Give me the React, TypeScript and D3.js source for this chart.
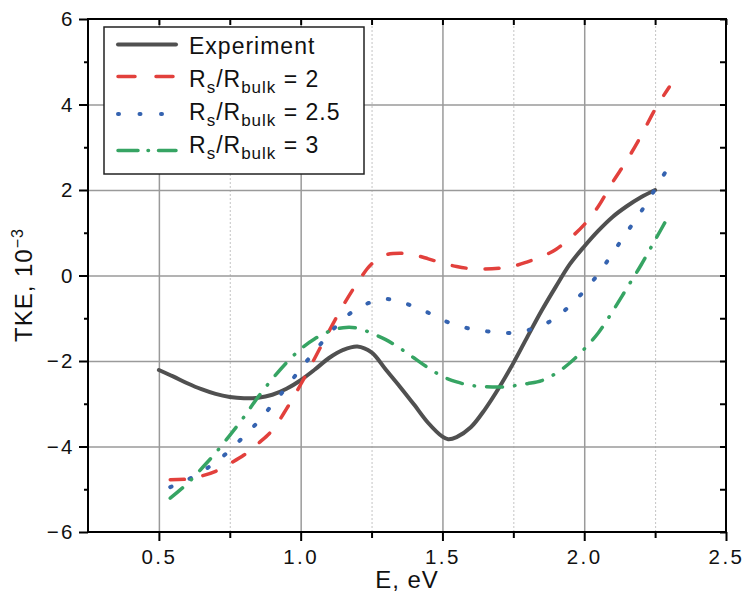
import React, { useEffect, useRef } from 'react';
import * as d3 from 'd3';

// Experiment curve
const expEnergy = [0.5, 0.55, 0.6, 0.65, 0.7, 0.75, 0.8, 0.85, 0.9, 0.95, 1.0, 1.05, 1.1, 1.15, 1.2, 1.25, 1.3, 1.35, 1.4, 1.45, 1.5, 1.52, 1.55, 1.6, 1.65, 1.7, 1.75, 1.8, 1.85, 1.9, 1.95, 2.0, 2.05, 2.1, 2.15, 2.2, 2.25];
const expTKE = [-2.21, -2.36, -2.52, -2.66, -2.77, -2.84, -2.87, -2.86, -2.79, -2.65, -2.45, -2.2, -1.93, -1.74, -1.66, -1.8, -2.2, -2.6, -3.02, -3.45, -3.77, -3.83, -3.78, -3.55, -3.13, -2.62, -2.05, -1.43, -0.82, -0.26, 0.27, 0.68, 1.05, 1.37, 1.62, 1.83, 2.0];

// model curves share one energy grid
const modelEnergy = [0.54, 0.6, 0.65, 0.7, 0.75, 0.8, 0.85, 0.9, 0.95, 1.0, 1.05, 1.1, 1.15, 1.2, 1.25, 1.3, 1.35, 1.4, 1.45, 1.5, 1.55, 1.6, 1.65, 1.7, 1.75, 1.8, 1.85, 1.9, 1.95, 2.0, 2.05, 2.1, 2.15, 2.2, 2.25, 2.3];
const ratio2 = [-4.78, -4.76, -4.69, -4.58, -4.4, -4.2, -3.93, -3.62, -3.12, -2.55, -1.93, -1.3, -0.7, -0.17, 0.27, 0.48, 0.52, 0.48, 0.39, 0.29, 0.21, 0.16, 0.15, 0.17, 0.22, 0.32, 0.44, 0.61, 0.87, 1.19, 1.62, 2.18, 2.69, 3.26, 3.89, 4.41];
const ratio25 = [-4.95, -4.78, -4.59, -4.37, -4.09, -3.76, -3.42, -3.02, -2.61, -2.18, -1.77, -1.37, -1.02, -0.77, -0.62, -0.55, -0.61, -0.73, -0.87, -1.04, -1.16, -1.25, -1.3, -1.34, -1.34, -1.28, -1.17, -0.99, -0.7, -0.36, 0.04, 0.52, 1.01, 1.49, 2.02, 2.57];
const ratio3 = [-5.21, -4.87, -4.52, -4.15, -3.74, -3.31, -2.84, -2.42, -2.04, -1.72, -1.48, -1.31, -1.22, -1.23, -1.35, -1.5, -1.7, -1.93, -2.16, -2.36, -2.49, -2.57, -2.6, -2.61, -2.58, -2.53, -2.46, -2.29, -2.04, -1.72, -1.34, -0.84, -0.3, 0.24, 0.83, 1.42];

const xTicks = [0.5, 1.0, 1.5, 2.0, 2.5];
const xMinor = [0.75, 1.25, 1.75, 2.25];
const yTicks = [-6, -4, -2, 0, 2, 4, 6];
const yMinor = [-5, -3, -1, 1, 3, 5];
const yGrid = [-4, -2, 0, 2, 4];

const FONT = '"Liberation Sans", Arial, Helvetica, sans-serif';

const App: React.FC = () => {
  const ref = useRef<SVGSVGElement>(null);

  useEffect(() => {
    const svg = d3.select(ref.current);
    svg.selectAll('*').remove();

    const left = 88, right = 726, top = 19, bottom = 532;
    const x = d3.scaleLinear().domain([0.25, 2.5]).range([left, right]);
    const y = d3.scaleLinear().domain([-6, 6]).range([bottom, top]);

    // grid
    svg.append('g')
      .attr('transform', `translate(0,${bottom})`)
      .call(d3.axisBottom(x).tickValues(xMinor).tickSize(-(bottom - top)).tickFormat(() => ''))
      .call(g => g.select('.domain').remove())
      .call(g => g.selectAll('line').attr('stroke', '#c4c4c4').attr('stroke-width', 1).attr('stroke-dasharray', '2 2'));
    svg.append('g')
      .attr('transform', `translate(0,${bottom})`)
      .call(d3.axisBottom(x).tickValues(xTicks.slice(0, 4)).tickSize(-(bottom - top)).tickFormat(() => ''))
      .call(g => g.select('.domain').remove())
      .call(g => g.selectAll('line').attr('stroke', '#9a9a9a').attr('stroke-width', 1.5));
    svg.append('g')
      .attr('transform', `translate(${left},0)`)
      .call(d3.axisLeft(y).tickValues(yGrid).tickSize(-(right - left)).tickFormat(() => ''))
      .call(g => g.select('.domain').remove())
      .call(g => g.selectAll('line').attr('stroke', '#9a9a9a').attr('stroke-width', 1.5));

    // curves
    const line = d3.line<[number, number]>()
      .x(d => x(d[0]))
      .y(d => y(d[1]))
      .curve(d3.curveCatmullRom.alpha(0.5));

    const series = [
      { e: expEnergy, v: expTKE, color: '#505050', width: 4, dash: null, cap: 'round' },
      { e: modelEnergy, v: ratio2, color: '#e2403c', width: 3.5, dash: '14 19', cap: 'round' },
      { e: modelEnergy, v: ratio25, color: '#3563b0', width: 4, dash: '1.5 19.5', cap: 'round' },
      { e: modelEnergy, v: ratio3, color: '#36a463', width: 3.5, dash: '16 12 0.5 12', cap: 'round' },
    ];

    series.forEach(s => {
      const pts = s.e.map((e, i) => [e, s.v[i]] as [number, number]);
      const p = svg.append('path')
        .datum(pts)
        .attr('fill', 'none')
        .attr('stroke', s.color)
        .attr('stroke-width', s.width)
        .attr('stroke-linecap', s.cap)
        .attr('stroke-linejoin', 'round')
        .attr('d', line);
      if (s.dash) p.attr('stroke-dasharray', s.dash);
    });

    // legend
    const lg = svg.append('g');
    lg.append('rect')
      .attr('x', 104).attr('y', 27).attr('width', 260).attr('height', 147)
      .attr('fill', '#fff').attr('stroke', '#222').attr('stroke-width', 1.5);

    const rows = [
      { label: 'Experiment', ratio: null, ly: 44.5, ty: 53.5 },
      { label: null, ratio: '2', ly: 76.5, ty: 86.7 },
      { label: null, ratio: '2.5', ly: 114, ty: 120 },
      { label: null, ratio: '3', ly: 150.5, ty: 153.3 },
    ];
    rows.forEach((r, i) => {
      const s = series[i];
      const l = lg.append('line')
        .attr('x1', 118).attr('x2', 176)
        .attr('y1', r.ly).attr('y2', r.ly)
        .attr('stroke', s.color)
        .attr('stroke-width', s.width)
        .attr('stroke-linecap', s.cap);
      if (s.dash) l.attr('stroke-dasharray', i === 1 ? '17 21' : i === 2 ? '1 20.5' : '20 10 0.5 10');

      const t = lg.append('text')
        .attr('x', 189).attr('y', r.ty)
        .attr('font-family', FONT).attr('font-size', 23)
        .attr('letter-spacing', 1)
        .attr('fill', '#111');
      if (r.label) {
        t.text(r.label);
      } else {
        t.append('tspan').text('R');
        t.append('tspan').attr('dy', 6).attr('font-size', 17).text('s');
        t.append('tspan').attr('dy', -6).text('/R');
        t.append('tspan').attr('dy', 6).attr('font-size', 17).text('bulk');
        t.append('tspan').attr('dy', -6).text(` = ${r.ratio}`);
      }
    });

    // frame
    svg.append('rect')
      .attr('x', left).attr('y', top)
      .attr('width', right - left).attr('height', bottom - top)
      .attr('fill', 'none').attr('stroke', '#000').attr('stroke-width', 2);

    const styleTicks = (g: d3.Selection<SVGGElement, unknown, null, undefined>) => {
      g.select('.domain').remove();
      g.selectAll('line').attr('stroke', '#000').attr('stroke-width', 2);
      g.selectAll('text')
        .attr('font-family', FONT)
        .attr('font-size', 20.5)
        .attr('letter-spacing', 2.5)
        .attr('fill', '#111');
    };

    // bottom axis
    svg.append('g')
      .attr('transform', `translate(0,${bottom})`)
      .call(d3.axisBottom(x).tickValues(xTicks).tickSize(9).tickPadding(8).tickFormat(d3.format('.1f')))
      .call(styleTicks);
    svg.append('g')
      .attr('transform', `translate(0,${bottom})`)
      .call(d3.axisBottom(x).tickValues(xMinor).tickSize(6).tickFormat(() => ''))
      .call(styleTicks);
    // top axis (inward)
    svg.append('g')
      .attr('transform', `translate(0,${top})`)
      .call(d3.axisTop(x).tickValues([...xTicks, ...xMinor]).tickSize(-6).tickFormat(() => ''))
      .call(styleTicks);
    // left axis
    svg.append('g')
      .attr('transform', `translate(${left},0)`)
      .call(d3.axisLeft(y).tickValues(yTicks).tickSize(9).tickPadding(4).tickFormat(d3.format('d')))
      .call(styleTicks);
    svg.append('g')
      .attr('transform', `translate(${left},0)`)
      .call(d3.axisLeft(y).tickValues(yMinor).tickSize(4).tickFormat(() => ''))
      .call(styleTicks);
    // right axis (inward)
    svg.append('g')
      .attr('transform', `translate(${right},0)`)
      .call(d3.axisRight(y).tickValues([...yTicks, ...yMinor]).tickSize(-6).tickFormat(() => ''))
      .call(styleTicks);

    // axis titles
    svg.append('text')
      .attr('x', (left + right) / 2).attr('y', 588)
      .attr('text-anchor', 'middle')
      .attr('font-family', FONT).attr('font-size', 24).attr('letter-spacing', 1)
      .attr('fill', '#111')
      .text('E, eV');

    const yt = svg.append('text')
      .attr('transform', 'translate(32,285) rotate(-90)')
      .attr('text-anchor', 'middle')
      .attr('font-family', FONT).attr('font-size', 24).attr('letter-spacing', 1)
      .attr('fill', '#111');
    yt.append('tspan').text('TKE, 10');
    yt.append('tspan').attr('dy', -9).attr('font-size', 16).text('−3');
  }, []);

  return (
    <svg
      ref={ref}
      width={743}
      height={615}
      style={{ position: 'absolute', left: 0, top: 0, background: '#fff' }}
    />
  );
};

export default App;
